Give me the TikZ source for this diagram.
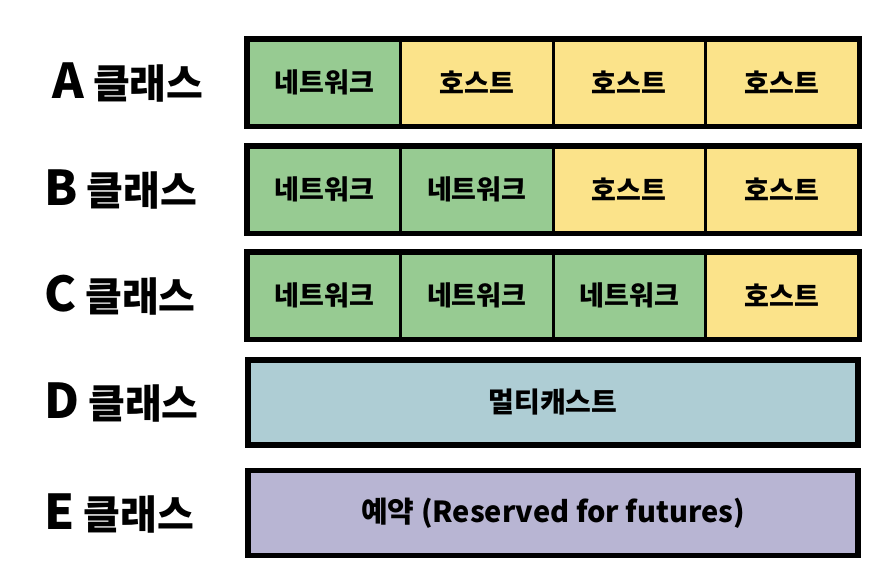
\documentclass[tikz,border=0pt]{standalone}
\usepackage{fontspec}
\setmainfont{Noto Sans CJK KR}
\begin{document}
\begin{tikzpicture}[x=1pt,y=-1pt]
\definecolor{netg}{HTML}{97CB92}
\definecolor{hosty}{HTML}{FBE38A}
\definecolor{multib}{HTML}{AECDD4}
\definecolor{resv}{HTML}{B8B5D3}
\tikzset{
  cell/.style={draw=black, line width=3pt, minimum width=152.5pt, minimum height=85pt, inner sep=0pt, font=\fontsize{27}{29}\selectfont\bfseries},
  wide/.style={draw=black, line width=5.5pt, minimum width=610pt, minimum height=85pt, inner sep=0pt, font=\fontsize{28}{30}\selectfont\bfseries},
  frame/.style={draw=black, line width=5.5pt},
  lbl/.style={anchor=west, inner sep=0pt, font=\fontsize{40}{42}\selectfont\bfseries},
  big/.style={font=\fontsize{48}{50}\selectfont\bfseries}
}
\fill[white] (0,0) rectangle (880,587);
% labels
\node[lbl] (la) at (52,82) {{\fontsize{48}{50}\selectfont A} 클래스};
\node[lbl] (lb) at (44,189) {{\fontsize{48}{50}\selectfont B} 클래스};
\node[lbl] (lc) at (44,295) {{\fontsize{48}{50}\selectfont C} 클래스};
\node[lbl] (ld) at (44,402) {{\fontsize{48}{50}\selectfont D} 클래스};
\node[lbl] (le) at (44,513) {{\fontsize{48}{50}\selectfont E} 클래스};
% row A
\node[cell, fill=netg]  (a1) at (324.25,82.5) {네트워크};
\node[cell, fill=hosty] (a2) at (476.75,82.5) {호스트};
\node[cell, fill=hosty] (a3) at (629.25,82.5) {호스트};
\node[cell, fill=hosty] (a4) at (781.75,82.5) {호스트};
\draw[frame] (a1.north west) rectangle (a4.south east);
% row B
\node[cell, fill=netg]  (b1) at (324.25,189.5) {네트워크};
\node[cell, fill=netg]  (b2) at (476.75,189.5) {네트워크};
\node[cell, fill=hosty] (b3) at (629.25,189.5) {호스트};
\node[cell, fill=hosty] (b4) at (781.75,189.5) {호스트};
\draw[frame] (b1.north west) rectangle (b4.south east);
% row C
\node[cell, fill=netg]  (c1) at (324.25,295.5) {네트워크};
\node[cell, fill=netg]  (c2) at (476.75,295.5) {네트워크};
\node[cell, fill=netg]  (c3) at (629.25,295.5) {네트워크};
\node[cell, fill=hosty] (c4) at (781.75,295.5) {호스트};
\draw[frame] (c1.north west) rectangle (c4.south east);
% row D
\node[wide, fill=multib] (d) at (553,402.5) {멀티캐스트};
% row E
\node[wide, fill=resv, font=\fontsize{29}{31}\selectfont\bfseries] (e) at (553,513) {예약 (Reserved for futures)};
\end{tikzpicture}
\end{document}
